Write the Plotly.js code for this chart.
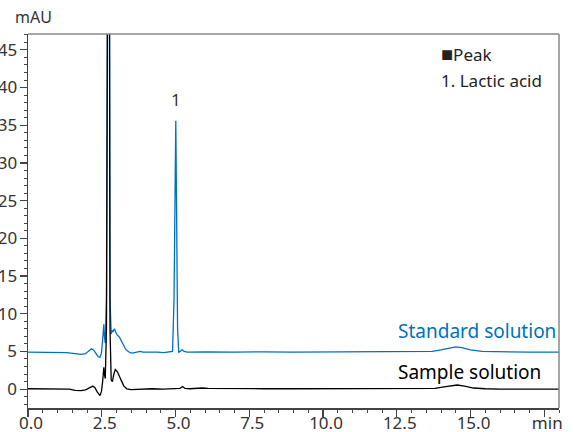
<!DOCTYPE html>
<html>
<head>
<meta charset="utf-8">
<script src="https://cdn.plot.ly/plotly-3.0.1.min.js"></script>
<style>html,body{margin:0;padding:0;background:#fff;}#chart{width:574px;height:432px;}</style>
</head>
<body>
<div id="chart"></div>
<script>
// Standard solution chromatogram (time in min, absorbance in mAU)
var stdTime = [0.0,0.5,1.0,1.3,1.6,1.8,1.95,2.05,2.15,2.22,2.3,2.38,2.44,2.49,2.53,2.57,2.59,2.62,2.66,2.69,2.72,2.75,2.78,2.82,2.85,2.88,2.93,2.97,3.02,3.1,3.17,3.24,3.31,3.4,3.48,3.58,3.7,3.8,3.9,4.1,4.25,4.4,4.6,4.8,4.9,4.95,4.98,5.01,5.04,5.07,5.11,5.16,5.22,5.29,5.4,6.0,7.0,8.0,9.0,10.0,11.0,12.0,13.0,13.7,14.0,14.3,14.5,14.7,15.0,15.4,16.0,17.0,18.0];
var stdValue = [4.9,4.9,4.88,4.85,4.7,4.6,4.7,5.0,5.35,5.2,4.7,4.3,4.2,4.8,6.5,8.6,7.0,6.1,12,50,150,50,12,7.3,7.8,7.6,8.0,7.6,7.2,6.9,6.3,5.8,5.3,5.0,4.8,4.8,4.95,5.0,4.9,4.9,5.0,4.9,4.85,4.9,5.0,12,30,35.6,22,8,4.9,5.0,5.25,5.0,4.9,4.95,4.9,4.95,4.9,4.9,4.95,4.9,4.95,5.0,5.2,5.5,5.6,5.5,5.2,5.0,4.95,4.9,4.9];

// Sample solution chromatogram
var smpTime = [0.0,1.0,1.4,1.6,1.8,1.95,2.1,2.2,2.27,2.35,2.44,2.49,2.53,2.57,2.59,2.62,2.66,2.69,2.72,2.75,2.78,2.82,2.86,2.91,2.96,3.03,3.1,3.18,3.25,3.35,3.5,3.8,4.2,4.6,5.0,5.15,5.24,5.32,5.5,5.9,6.1,7.0,8.0,9.0,10.0,11.0,12.0,13.0,13.8,14.1,14.4,14.55,14.8,15.1,15.5,16.0,17.0,18.0];
var smpValue = [0.05,0.05,0.0,-0.15,-0.2,-0.1,0.2,0.4,0.2,-0.4,-0.85,-0.3,1.0,2.9,2.0,1.4,8,45,150,45,8,1.2,1.0,2.0,2.6,2.3,1.6,1.0,0.4,0.05,-0.05,0.0,0.05,0.0,0.1,0.1,0.35,0.1,0.05,0.15,0.1,0.05,0.05,0.05,0.05,0.05,0.05,0.05,0.1,0.3,0.5,0.55,0.4,0.15,0.05,0.0,0.0,0.0];

var xTickVals = [0, 2.5, 5, 7.5, 10, 12.5, 15, 17.5];
var xTickText = ['0.0','2.5','5.0','7.5','10.0','12.5','15.0','min'];
var yTickVals = [0,5,10,15,20,25,30,35,40,45];

var xMinor = []; for (var i = 0; i <= 36; i++) { if (i % 5 !== 0) xMinor.push(i * 0.5); }
var yMinor = []; for (var j = -2; j <= 47; j++) { if (j % 5 !== 0) yMinor.push(j); }

var font = 'Noto Sans, Open Sans, sans-serif';

var traces = [
  {x: stdTime, y: stdValue, type: 'scatter', mode: 'lines', line: {color: '#0070c0', width: 1.3}, hoverinfo: 'skip'},
  {x: smpTime, y: smpValue, type: 'scatter', mode: 'lines', line: {color: '#000000', width: 1.3}, hoverinfo: 'skip'}
];

var layout = {
  width: 574, height: 432,
  margin: {l: 28, r: 15, t: 34, b: 24},
  paper_bgcolor: '#fff', plot_bgcolor: '#fff',
  showlegend: false,
  font: {family: font, size: 17, color: '#333'},
  xaxis: {
    range: [0, 18], tickmode: 'array', tickvals: xTickVals, ticktext: xTickText,
    ticks: 'outside', ticklen: 7, tickwidth: 1.2, tickcolor: '#444',
    ticklabelstandoff: -8, ticklabelshift: 3,
    showline: true, linecolor: '#444', linewidth: 1.5,
    showgrid: false, zeroline: false,
    tickfont: {family: font, size: 17, color: '#333'},
    minor: {tickmode: 'array', tickvals: xMinor, ticks: 'outside', ticklen: 3, tickcolor: '#444', tickwidth: 1, showgrid: false}
  },
  yaxis: {
    range: [-2.5, 47.1], tickmode: 'array', tickvals: yTickVals,
    ticks: 'outside', ticklen: 7, tickwidth: 1.2, tickcolor: '#444',
    ticklabelstandoff: -1,
    showline: true, linecolor: '#444', linewidth: 1.5,
    showgrid: false, zeroline: false,
    tickfont: {family: font, size: 17, color: '#333'},
    minor: {tickmode: 'array', tickvals: yMinor, ticks: 'outside', ticklen: 3, tickcolor: '#444', tickwidth: 1, showgrid: false}
  },
  shapes: [
    {type: 'line', xref: 'paper', yref: 'paper', x0: 0, x1: 1, y0: 1, y1: 1, line: {color: '#888', width: 1.5}},
    {type: 'line', xref: 'paper', yref: 'paper', x0: 1, x1: 1, y0: 0, y1: 1, line: {color: '#888', width: 1.5}}
  ],
  annotations: [
    {xref: 'paper', yref: 'paper', x: -0.028, y: 1.0, yshift: 4, xanchor: 'left', yanchor: 'bottom', text: 'mAU', showarrow: false, font: {family: font, size: 16, color: '#333'}},
    {x: 5.0, y: 38.4, text: '1', showarrow: false, xanchor: 'center', yanchor: 'middle', font: {family: font, size: 17, color: '#333'}},
    {x: 13.93, y: 44.5, text: '<span style="font-size:20px">■</span>Peak', showarrow: false, xanchor: 'left', yanchor: 'middle', font: {family: font, size: 17, color: '#222'}},
    {x: 13.93, y: 41.0, text: '1. Lactic acid', showarrow: false, xanchor: 'left', yanchor: 'middle', font: {family: font, size: 17, color: '#222'}},
    {x: 12.47, y: 7.7, text: 'Standard solution', showarrow: false, xanchor: 'left', yanchor: 'middle', font: {family: font, size: 19, color: '#0070c0'}},
    {x: 12.47, y: 2.3, text: 'Sample solution', showarrow: false, xanchor: 'left', yanchor: 'middle', font: {family: font, size: 19, color: '#000'}}
  ]
};

Plotly.newPlot('chart', traces, layout, {displayModeBar: false, staticPlot: true});
</script>
</body>
</html>
